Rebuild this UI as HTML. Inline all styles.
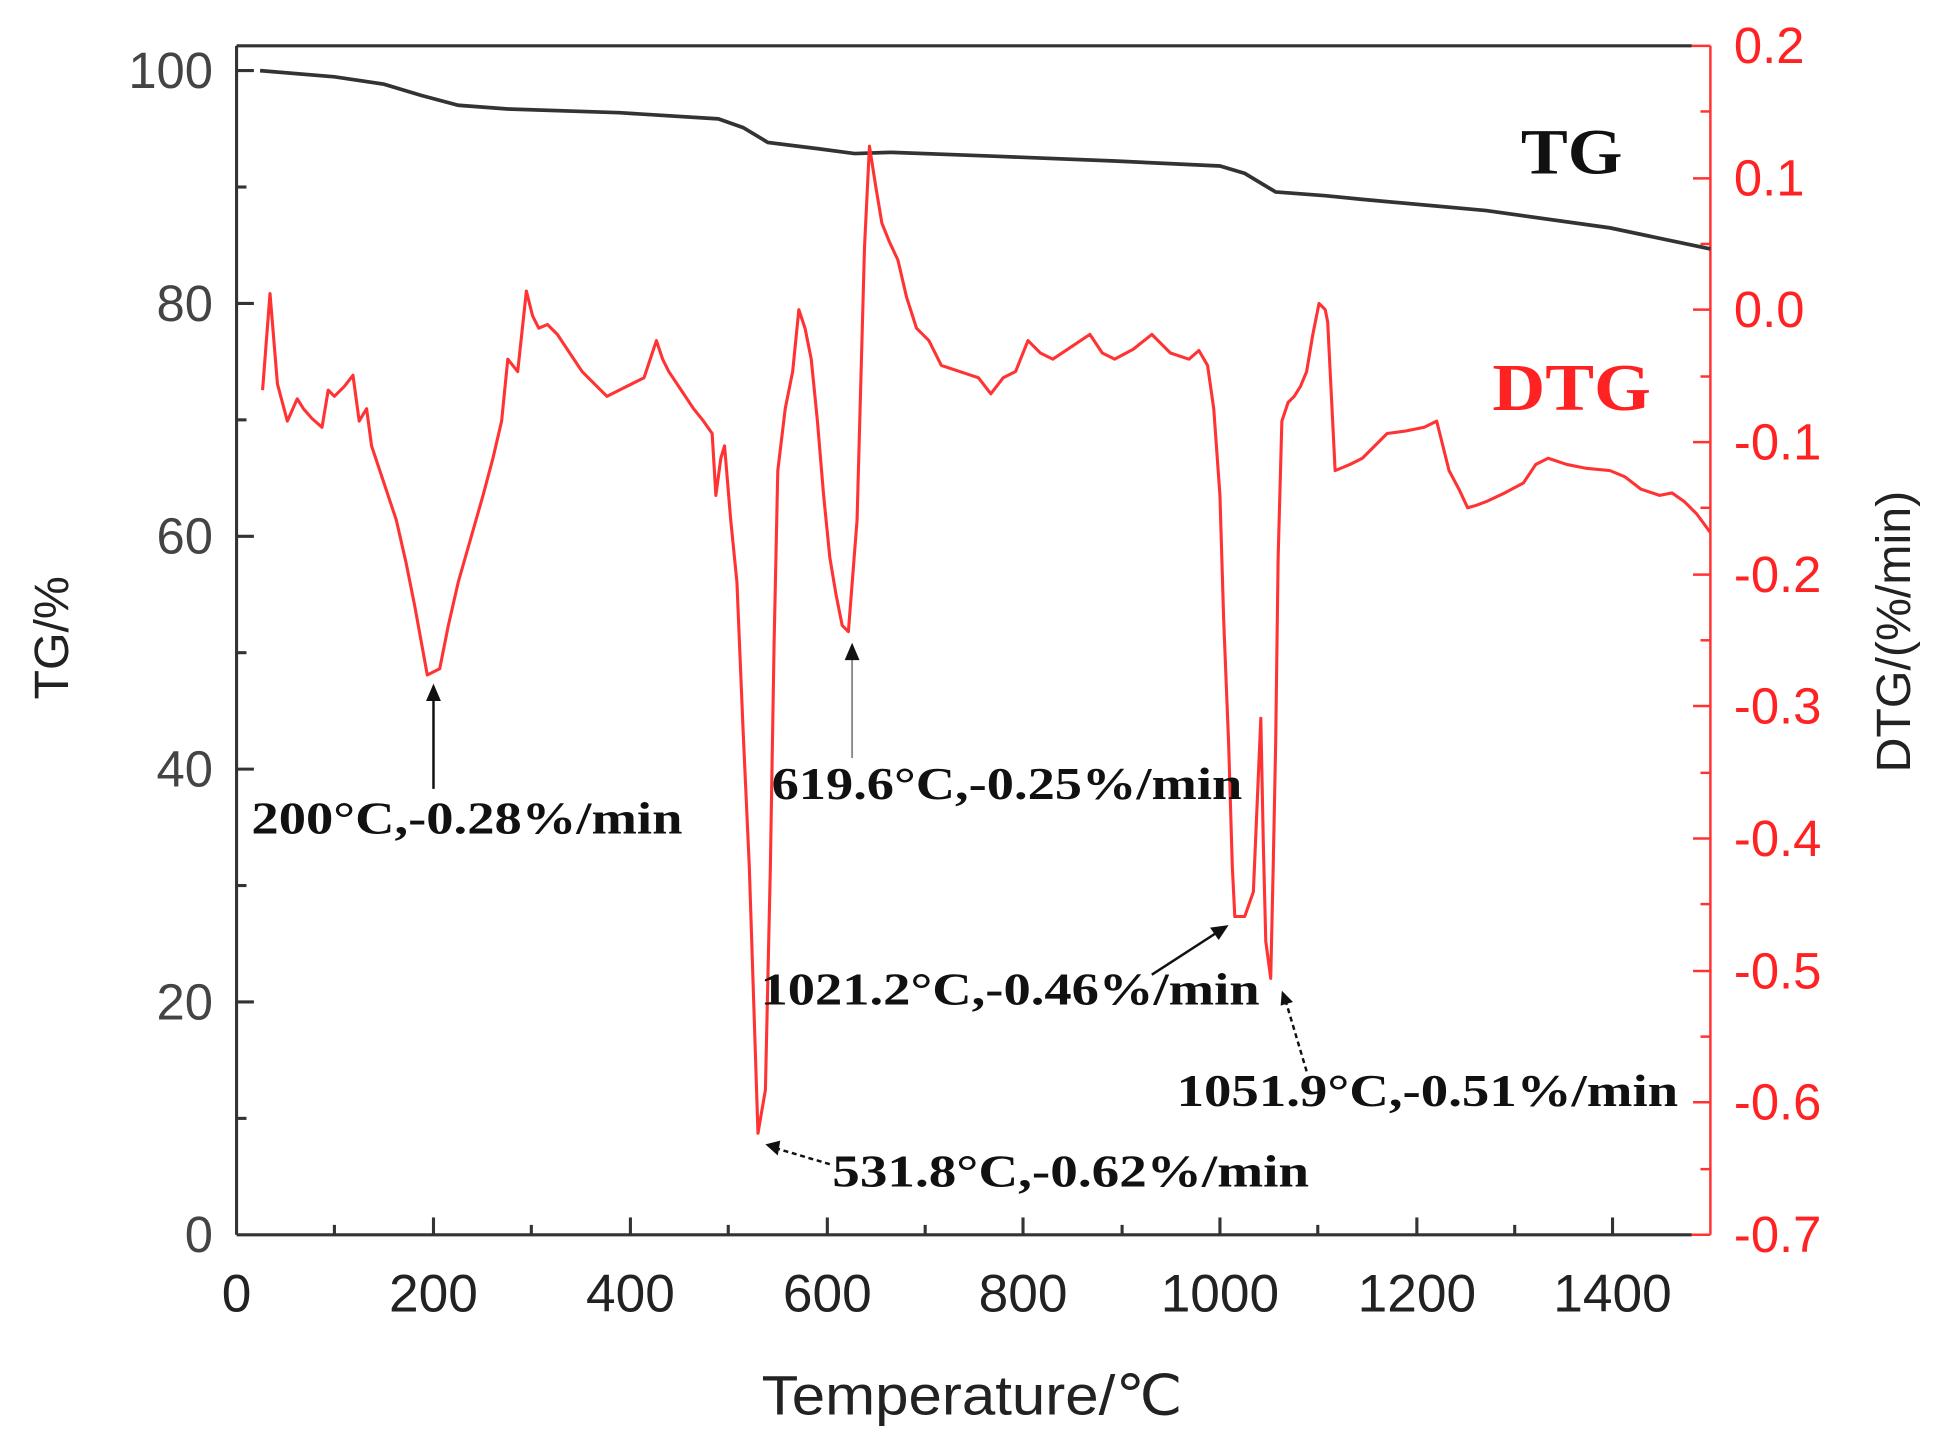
<!DOCTYPE html>
<html><head><style>html,body{margin:0;padding:0;background:#fff}svg{display:block}</style></head>
<body>
<svg width="1942" height="1455" viewBox="0 0 1568 1174.8" xmlns="http://www.w3.org/2000/svg">
<rect width="1568" height="1175" fill="#fff"/>
<g stroke="#333" stroke-width="2.5" fill="none">
<line x1="191" y1="37" x2="1366" y2="37"/>
<line x1="191" y1="37" x2="191" y2="997"/>
<line x1="191" y1="997" x2="1366" y2="997"/>
</g>
<g stroke="#ff3333" stroke-width="2" fill="none">
<line x1="1381" y1="37" x2="1381" y2="997"/>
<line x1="1366" y1="997" x2="1381" y2="997"/>
<line x1="1366" y1="37" x2="1381" y2="37"/>
</g>
<g stroke="#333" stroke-width="2.5">
<line x1="191" y1="57" x2="205" y2="57"/><line x1="191" y1="245" x2="205" y2="245"/><line x1="191" y1="433" x2="205" y2="433"/><line x1="191" y1="621" x2="205" y2="621"/><line x1="191" y1="809" x2="205" y2="809"/>
<line x1="191" y1="151" x2="199" y2="151"/><line x1="191" y1="339" x2="199" y2="339"/><line x1="191" y1="527" x2="199" y2="527"/><line x1="191" y1="715" x2="199" y2="715"/><line x1="191" y1="903" x2="199" y2="903"/>
<line x1="350" y1="997" x2="350" y2="983"/><line x1="509" y1="997" x2="509" y2="983"/><line x1="668" y1="997" x2="668" y2="983"/><line x1="826" y1="997" x2="826" y2="983"/><line x1="985" y1="997" x2="985" y2="983"/><line x1="1144" y1="997" x2="1144" y2="983"/><line x1="1302" y1="997" x2="1302" y2="983"/>
<line x1="270" y1="997" x2="270" y2="989"/><line x1="429" y1="997" x2="429" y2="989"/><line x1="588" y1="997" x2="588" y2="989"/><line x1="747" y1="997" x2="747" y2="989"/><line x1="906" y1="997" x2="906" y2="989"/><line x1="1064" y1="997" x2="1064" y2="989"/><line x1="1223" y1="997" x2="1223" y2="989"/>
</g>
<g stroke="#ff3333" stroke-width="2">
<line x1="1381" y1="144" x2="1367" y2="144"/><line x1="1381" y1="250" x2="1367" y2="250"/><line x1="1381" y1="357" x2="1367" y2="357"/><line x1="1381" y1="464" x2="1367" y2="464"/><line x1="1381" y1="570" x2="1367" y2="570"/><line x1="1381" y1="677" x2="1367" y2="677"/><line x1="1381" y1="784" x2="1367" y2="784"/><line x1="1381" y1="890" x2="1367" y2="890"/>
<line x1="1381" y1="90" x2="1373" y2="90"/><line x1="1381" y1="197" x2="1373" y2="197"/><line x1="1381" y1="304" x2="1373" y2="304"/><line x1="1381" y1="410" x2="1373" y2="410"/><line x1="1381" y1="517" x2="1373" y2="517"/><line x1="1381" y1="624" x2="1373" y2="624"/><line x1="1381" y1="730" x2="1373" y2="730"/><line x1="1381" y1="837" x2="1373" y2="837"/><line x1="1381" y1="944" x2="1373" y2="944"/>
</g>
<g font-family="Liberation Sans, sans-serif" font-size="41" fill="#444" text-anchor="end">
<text x="172" y="71">100</text><text x="172" y="259">80</text><text x="172" y="447">60</text><text x="172" y="635">40</text><text x="172" y="823">20</text><text x="172" y="1011">0</text>
</g>
<g font-family="Liberation Sans, sans-serif" font-size="43" fill="#222" text-anchor="middle">
<text x="191" y="1059">0</text><text x="350" y="1059">200</text><text x="509" y="1059">400</text><text x="668" y="1059">600</text><text x="826" y="1059">800</text><text x="985" y="1059">1000</text><text x="1144" y="1059">1200</text><text x="1302" y="1059">1400</text>
<text x="785" y="1142" font-size="45" textLength="340" lengthAdjust="spacingAndGlyphs">Temperature/℃</text>
</g>
<g font-family="Liberation Sans, sans-serif" font-size="41" fill="#ff2222">
<text x="1400" y="51">0.2</text><text x="1400" y="158">0.1</text><text x="1400" y="264">0.0</text><text x="1400" y="371">-0.1</text><text x="1400" y="478">-0.2</text><text x="1400" y="584">-0.3</text><text x="1400" y="691">-0.4</text><text x="1400" y="798">-0.5</text><text x="1400" y="904">-0.6</text><text x="1400" y="1011">-0.7</text>
</g>
<text transform="translate(55,515) rotate(-90)" font-family="Liberation Sans, sans-serif" font-size="39" fill="#222" text-anchor="middle">TG/%</text>
<text transform="translate(1542,510) rotate(-90)" font-family="Liberation Sans, sans-serif" font-size="39" fill="#222" text-anchor="middle">DTG/(%/min)</text>
<polyline fill="none" stroke="#333" stroke-width="3" points="210,57 270,62 310,68 340,77 370,85 410,88 500,91 580,96 600,103 620,115 660,120 690,124 720,123 800,126 900,130 985,134 1005,140 1030,155 1070,158 1100,161 1200,170 1300,184 1381,201"/>
<polyline fill="none" stroke="#ff3333" stroke-width="2.5" stroke-linejoin="round" points="212,315 218,237 224,310 232,340 240,322 245,330 252,338 260,345 265,315 270,320 278,312 285,303 290,340 296,330 300,360 310,390 320,420 328,455 335,490 345,545 355,540 362,505 370,470 380,435 390,400 398,370 405,340 410,290 418,300 425,235 430,255 435,265 442,262 450,270 460,285 470,300 480,310 490,320 500,315 510,310 520,305 530,275 535,290 540,300 550,315 560,330 568,340 575,350 578,400 582,370 585,360 590,420 595,470 600,590 605,700 612,915 618,880 622,700 625,520 628,380 634,330 640,300 645,250 650,265 655,290 660,340 665,400 670,450 675,480 680,505 685,510 692,420 698,200 702,118 707,150 712,180 718,195 725,210 732,240 740,265 750,275 760,295 775,300 790,305 800,318 810,305 820,300 830,275 840,285 850,290 865,280 880,270 890,285 900,290 915,282 930,270 945,285 960,290 968,283 975,295 980,330 985,400 988,500 992,600 995,700 997,740 1005,740 1012,720 1015,650 1018,580 1020,680 1022,760 1026,790 1028,700 1030,600 1032,450 1035,340 1040,325 1045,320 1050,312 1055,300 1060,270 1065,245 1070,250 1072,260 1075,320 1078,380 1090,375 1100,370 1110,360 1120,350 1135,348 1150,345 1160,340 1165,360 1170,380 1178,395 1185,410 1192,408 1200,405 1215,398 1230,390 1240,375 1250,370 1265,375 1280,378 1300,380 1312,385 1325,395 1340,400 1350,398 1360,405 1370,415 1381,430"/>
<g font-family="Liberation Serif, serif" font-weight="bold">
<text x="1228" y="140" font-size="52" fill="#111" textLength="82" lengthAdjust="spacingAndGlyphs">TG</text>
<text x="1205" y="331" font-size="54" fill="#ff2222" textLength="128" lengthAdjust="spacingAndGlyphs">DTG</text>
</g>
<g font-family="Liberation Serif, serif" font-weight="bold" font-size="37" fill="#111" lengthAdjust="spacingAndGlyphs">
<text x="203" y="673" textLength="348" lengthAdjust="spacingAndGlyphs">200°C,-0.28%/min</text>
<text x="623" y="645" textLength="380" lengthAdjust="spacingAndGlyphs">619.6°C,-0.25%/min</text>
<text x="614" y="811" textLength="403" lengthAdjust="spacingAndGlyphs">1021.2°C,-0.46%/min</text>
<text x="672" y="958" textLength="385" lengthAdjust="spacingAndGlyphs">531.8°C,-0.62%/min</text>
<text x="950" y="893" textLength="405" lengthAdjust="spacingAndGlyphs">1051.9°C,-0.51%/min</text>
</g>
<g stroke="#111" fill="none" stroke-width="2">
<line x1="350" y1="637" x2="350" y2="560"/>
<line x1="688" y1="612" x2="688" y2="528" stroke="#888" stroke-width="1.5"/>
<line x1="930" y1="787" x2="984" y2="752"/>
<line x1="670" y1="940" x2="626" y2="927" stroke-dasharray="4,3"/>
<line x1="1055" y1="865" x2="1038" y2="808" stroke-dasharray="4,3"/>
</g>
<g fill="#111">
<polygon points="350,552 344,566 356,566"/>
<polygon points="688,519 682,533 694,533"/>
<polygon points="992,747 977,749 984,759"/>
<polygon points="618,924 630,921 628,933"/>
<polygon points="1035,800 1034,812 1044,809"/>
</g>
</svg>
</body></html>
